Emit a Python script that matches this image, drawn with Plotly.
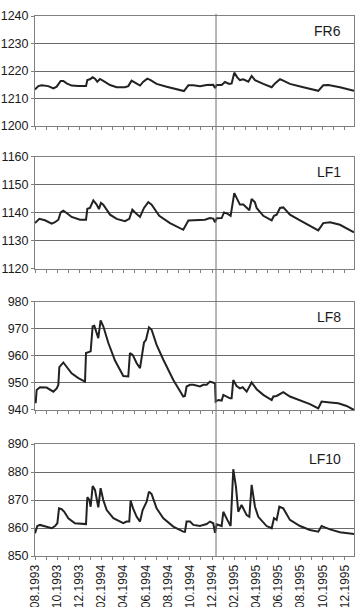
import plotly.graph_objects as go

# months since 08.1993
fr6_x = [0, 0.30, 0.60, 1.20, 1.66, 1.96, 2.32, 2.56, 2.86, 3.31,
         3.92, 4.61, 4.73, 4.97, 5.21, 5.42, 5.63, 5.87, 6.17, 6.78,
         7.38, 8.13, 8.43, 8.73, 9.04, 9.49, 9.79, 10.15, 10.45, 10.99,
         11.90, 12.80, 13.46, 13.86, 14.31, 14.91, 15.51, 16.11, 16.27, 16.42,
         16.87, 17.17, 17.56, 17.77, 18.01, 18.28, 18.52, 18.83, 19.28, 19.58,
         19.88, 20.63, 21.39, 21.69, 22.14, 22.44, 23.04, 24.25, 25.60, 26.05,
         26.51, 27.56, 28.83]
fr6_y = [1213.3, 1214.5, 1214.8, 1214.5, 1213.7, 1214.3, 1216.4, 1216.4, 1215.5, 1214.7,
         1214.5, 1214.5, 1216.7, 1217.0, 1217.7, 1217.2, 1216.1, 1217.1, 1216.4, 1214.9,
         1214.1, 1214.1, 1214.5, 1216.5, 1215.8, 1214.7, 1216.1, 1217.2, 1216.7, 1215.3,
         1214.3, 1213.3, 1212.7, 1214.8, 1214.8, 1214.5, 1214.9, 1215.0, 1213.8, 1214.9,
         1214.9, 1216.0, 1215.3, 1215.5, 1219.4, 1217.7, 1216.7, 1217.0, 1216.1, 1218.2,
         1216.7, 1215.3, 1214.1, 1215.5, 1217.0, 1216.5, 1215.3, 1214.1, 1212.8, 1214.8,
         1214.9, 1214.1, 1212.8]

lf1_x = [0, 0.39, 0.90, 1.51, 1.81, 2.11, 2.32, 2.56, 2.86, 3.31,
         4.07, 4.61, 4.73, 4.97, 5.27, 5.57, 5.78, 5.96, 6.17, 6.78,
         7.38, 8.13, 8.52, 8.80, 9.04, 9.49, 9.85, 10.24, 10.54, 11.23,
         12.20, 13.40, 13.86, 14.31, 14.91, 15.36, 15.81, 16.11, 16.27, 16.42,
         16.87, 17.08, 17.38, 17.68, 18.01, 18.28, 18.52, 18.83, 19.13, 19.37,
         19.58, 19.88, 20.03, 20.63, 21.39, 21.60, 21.84, 22.14, 22.44, 23.04,
         23.95, 24.85, 25.60, 26.05, 26.66, 27.56, 28.83]
lf1_y = [1136.4, 1137.9, 1137.4, 1136.2, 1136.7, 1137.6, 1140.2, 1140.8, 1140.0, 1138.6,
         1137.6, 1137.6, 1141.5, 1141.8, 1144.5, 1143.0, 1141.4, 1143.6, 1143.0, 1139.4,
         1137.9, 1137.1, 1137.9, 1141.2, 1140.2, 1138.6, 1141.8, 1143.9, 1143.0, 1139.0,
         1136.4, 1134.0, 1137.3, 1137.4, 1137.3, 1137.6, 1138.2, 1138.0, 1136.7, 1138.1,
         1138.2, 1140.2, 1139.8, 1139.0, 1147.1, 1144.8, 1143.0, 1143.0, 1141.8, 1141.0,
         1145.0, 1143.8, 1141.8, 1139.0, 1137.4, 1139.0, 1139.4, 1141.8, 1142.0, 1139.4,
         1137.4, 1135.5, 1133.8, 1136.4, 1136.7, 1135.8, 1133.1]

lf8_x = [0.06, 0.15, 0.45, 1.05, 1.66, 1.96, 2.11, 2.20, 2.56, 2.86,
         3.31, 3.92, 4.52, 4.61, 4.82, 5.03, 5.21, 5.36, 5.72, 5.93,
         6.17, 6.63, 7.23, 7.98, 8.43, 8.58, 8.83, 9.19, 9.49, 9.85,
         10.03, 10.30, 10.54, 10.99, 11.60, 12.50, 13.40, 13.55, 13.70, 14.01,
         14.31, 14.91, 15.21, 15.51, 15.81, 16.11, 16.27, 16.33, 16.57, 16.87,
         17.02, 17.62, 17.77, 17.92, 18.22, 18.52, 18.77, 19.13, 19.58, 20.03,
         20.63, 21.39, 21.54, 21.84, 22.29, 22.44, 23.04, 23.95, 24.85, 25.60,
         25.90, 26.66, 27.41, 28.16, 28.83]
lf8_y = [942.5, 947.4, 948.4, 948.3, 946.8, 948.0, 949.3, 955.9, 957.6, 956.1,
         953.6, 951.8, 950.5, 961.1, 961.3, 961.7, 971.0, 971.2, 966.6, 973.2,
         971.0, 964.8, 958.3, 952.6, 952.4, 961.1, 960.4, 957.3, 955.5, 965.0,
         966.0, 970.6, 969.7, 964.1, 958.6, 951.1, 945.0, 945.2, 948.7, 949.3,
         949.3, 948.7, 949.3, 949.3, 950.5, 950.2, 949.9, 943.1, 943.7, 943.5,
         945.6, 944.3, 944.3, 951.1, 948.9, 948.0, 948.4, 946.8, 950.2, 947.7,
         945.6, 943.7, 945.0, 945.2, 946.4, 946.6, 945.0, 943.5, 942.2, 940.6,
         943.1, 942.8, 942.5, 941.5, 940.0]

lf10_x = [0, 0.21, 0.45, 1.05, 1.51, 1.81, 2.02, 2.17, 2.41, 2.65,
          3.01, 3.61, 4.61, 4.73, 4.91, 5.03, 5.21, 5.42, 5.72, 5.93,
          6.17, 6.48, 7.08, 7.98, 8.28, 8.52, 8.64, 8.89, 9.19, 9.49,
          9.73, 10.09, 10.30, 10.54, 10.99, 11.60, 12.50, 13.40, 13.55, 13.70,
          14.01, 14.31, 14.91, 15.21, 15.51, 15.81, 16.11, 16.27, 16.42, 16.87,
          17.02, 17.38, 17.68, 17.92, 18.16, 18.37, 18.67, 19.13, 19.37, 19.58,
          19.88, 20.18, 20.93, 21.39, 21.60, 21.84, 22.08, 22.44, 23.04, 23.95,
          24.85, 25.60, 25.90, 26.20, 26.66, 27.56, 28.83]
lf10_y = [858.1, 860.7, 861.1, 860.5, 859.9, 860.7, 861.7, 867.0, 866.7, 865.8,
          863.5, 861.7, 861.4, 871.0, 870.0, 867.6, 875.0, 873.6, 867.4, 874.2,
          870.0, 866.4, 863.5, 861.7, 862.3, 862.3, 869.8, 866.7, 864.0, 862.3,
          866.4, 869.4, 873.0, 872.1, 867.0, 863.5, 860.5, 858.7, 858.6, 862.3,
          862.3, 861.1, 860.7, 861.1, 861.4, 862.3, 861.7, 858.3, 861.3, 860.7,
          865.8, 862.9, 860.7, 881.0, 874.8, 865.8, 868.2, 864.6, 864.0, 875.4,
          867.6, 864.0, 860.7, 859.9, 863.5, 862.9, 867.6, 867.0, 862.9, 860.7,
          859.3, 858.7, 860.7, 860.2, 859.5, 858.5, 857.9]

tick_months = [0, 2, 4, 6, 8, 10, 12, 14, 16, 18, 20, 22, 24, 26, 28]
tick_labels = ["08.1993", "10.1993", "12.1993", "02.1994", "04.1994", "06.1994",
               "08.1994", "10.1994", "12.1994", "02.1995", "04.1995", "06.1995",
               "08.1995", "10.1995", "12.1995"]
panel_names = ["FR6", "LF1", "LF8", "LF10"]
y_ranges = [[1200, 1240], [1120, 1160], [940, 980], [850, 890]]
split_month = 16.36

series = [(fr6_x, fr6_y), (lf1_x, lf1_y), (lf8_x, lf8_y), (lf10_x, lf10_y)]
domains = [[0.7963, 1.0], [0.5315, 0.7389], [0.2704, 0.4704], [0.0, 0.2074]]

FONT = "Liberation Sans, Arial, sans-serif"
fig = go.Figure()
layout = dict(
    width=357, height=607,
    margin=dict(l=35, r=3, t=16, b=51),
    paper_bgcolor="white", plot_bgcolor="white",
    showlegend=False,
    font=dict(family=FONT, size=13, color="#1a1a1a"),
)
annotations = []
for i, ((xs, ys), name, yr, dom) in enumerate(zip(series, panel_names, y_ranges, domains)):
    n = i + 1
    xa = "x" if n == 1 else f"x{n}"
    ya = "y" if n == 1 else f"y{n}"
    fig.add_trace(go.Scatter(x=xs, y=ys, mode="lines", xaxis=xa, yaxis=ya,
                             line=dict(color="#222222", width=2)))
    layout["xaxis" if n == 1 else f"xaxis{n}"] = dict(
        domain=[0, 1], anchor=ya, range=[0, 28.83],
        tickmode="array", tickvals=tick_months, ticktext=tick_labels,
        showticklabels=(n == 4), tickangle=-90,
        ticks="outside", ticklen=3, tickcolor="#808080",
        minor=dict(tick0=0, dtick=1, ticks="outside", ticklen=3, tickcolor="#808080", showgrid=False),
        showgrid=False, zeroline=False,
        showline=True, linecolor="#808080", linewidth=1, mirror=True,
        tickfont=dict(family=FONT, size=12, color="#1a1a1a"),
        automargin=False,
        matches=None if n == 1 else "x",
    )
    layout["yaxis" if n == 1 else f"yaxis{n}"] = dict(
        domain=dom, anchor=xa, range=yr, dtick=10,
        ticks="outside", ticklen=3, tickcolor="#808080",
        showgrid=True, gridcolor="#6a6a6a", gridwidth=1, zeroline=False,
        showline=True, linecolor="#808080", linewidth=1, mirror=True,
        tickfont=dict(family=FONT, size=12.5, color="#1a1a1a"),
        automargin=False,
    )
    annotations.append(dict(
        text=name, xref="paper", yref="paper", x=0.966, y=dom[1] - 0.009,
        xanchor="right", yanchor="top", showarrow=False,
        font=dict(family=FONT, size=14, color="#1a1a1a"),
    ))
layout["annotations"] = annotations
layout["shapes"] = [dict(type="line", xref="x", yref="paper",
                         x0=split_month, x1=split_month, y0=0, y1=1.004,
                         line=dict(color="#707070", width=1))]
fig.update_layout(**layout)
fig.write_html("out.html")
